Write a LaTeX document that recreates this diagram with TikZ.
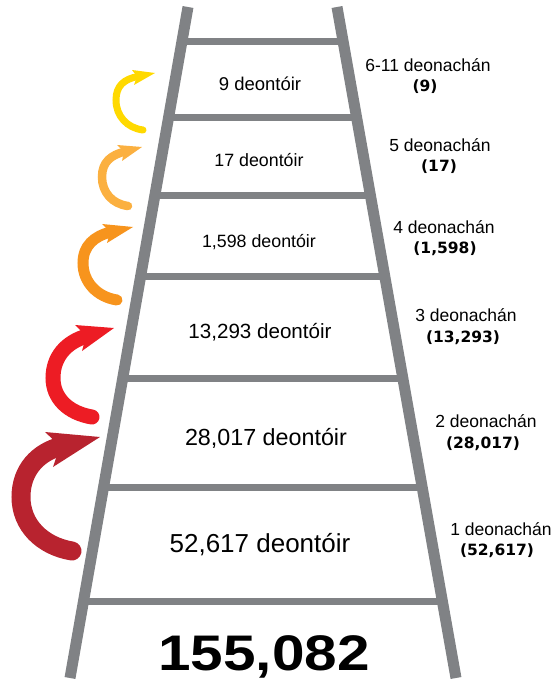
\documentclass[tikz,border=0pt]{standalone}
\usepackage{fontspec}
\setmainfont{Liberation Sans}
\newfontfamily\boldlab{DejaVu Sans}
\newfontfamily\totfont[FakeStretch=1.17]{Liberation Sans}
\usetikzlibrary{calc}
\definecolor{ladder}{HTML}{808285}
\definecolor{cyel}{HTML}{FFD900}
\definecolor{clor}{HTML}{FBB040}
\definecolor{cor}{HTML}{F7941D}
\definecolor{cred}{HTML}{ED1C24}
\definecolor{cdred}{HTML}{B8232F}
\tikzset{
  rail/.style={draw=ladder,line width=11pt},
  rung/.style={draw=ladder,line width=7pt},
  inner/.style={inner sep=0pt,anchor=center},
  lab/.style={inner sep=0pt,anchor=center,font=\fontsize{17.5}{20}\selectfont},
  num/.style={inner sep=0pt,anchor=center,font=\boldlab\bfseries\fontsize{15.5}{18}\selectfont},
  shaft/.style={line width=#1,line cap=round}
}
\begin{document}
\begin{tikzpicture}[x=1pt,y=-1pt]
\useasboundingbox (0,0) rectangle (555,684);
\coordinate (lt) at (188,7);
\coordinate (lb) at (70,678);
\coordinate (rt) at (337,7);
\coordinate (rb) at (456,678);
\foreach \y in {42,118,196,277,379,487,601}{
  \pgfmathsetmacro\t{(\y-7)/671}
  \draw[rung] ($(lt)!\t!(lb)$) -- ($(rt)!\t!(rb)$);
}
\draw[rail] (lt) -- (lb);
\draw[rail] (rt) -- (rb);
% step texts
\node[inner,font=\fontsize{18.5}{20}\selectfont] (s6) at (260,84) {9 deontóir};
\node[inner,font=\fontsize{17.8}{20}\selectfont] (s5) at (259,160) {17 deontóir};
\node[inner,font=\fontsize{17.8}{20}\selectfont] (s4) at (259,242) {1,598 deontóir};
\node[inner,font=\fontsize{20.6}{22}\selectfont] (s3) at (260,332) {13,293 deontóir};
\node[inner,font=\fontsize{23.3}{25}\selectfont] (s2) at (266,438) {28,017 deontóir};
\node[inner,font=\fontsize{26}{28}\selectfont] (s1) at (260,545) {52,617 deontóir};
\node[inner,font=\totfont\bfseries\fontsize{50}{52}\selectfont] (tot) at (264,657) {155,082};
% right labels
\node[lab] (r6) at (428,65) {6-11 deonachán};
\node[num] (n6) at (425,87) {(9)};
\node[lab] (r5) at (440,145) {5 deonachán};
\node[num] (n5) at (439,167) {(17)};
\node[lab] (r4) at (444,227) {4 deonachán};
\node[num] (n4) at (445,249) {(1,598)};
\node[lab] (r3) at (466,315) {3 deonachán};
\node[num] (n3) at (463,338) {(13,293)};
\node[lab] (r2) at (486,421) {2 deonachán};
\node[num] (n2) at (483,444) {(28,017)};
\node[lab] (r1) at (501,529) {1 deonachán};
\node[num] (n1) at (497,551) {(52,617)};
% arrows
\draw[cdred,shaft=19pt] (72,551) .. controls (42,546) and (21,525) .. (21,497) .. controls (21,470) and (38,452) .. (62,446);
\fill[cdred] (100,437) -- (45,432) -- (60,446) -- (53,467) -- cycle;
\draw[cred,shaft=15pt] (92,417) .. controls (68,413) and (53,398) .. (53,378) .. controls (53,357) and (66,342) .. (87,336);
\fill[cred] (114,328) -- (75,325) -- (86,336) -- (82,351) -- cycle;
\draw[cor,shaft=11pt] (117,300) .. controls (97,297) and (83,282) .. (83,263) .. controls (83,246) and (94,236) .. (111,232);
\fill[cor] (133,227) -- (102,224) -- (110,232) -- (107,243) -- cycle;
\draw[clor,shaft=8.5pt] (128,206) .. controls (112,204) and (102,192) .. (102,177) .. controls (102,162) and (111,155) .. (125,151.5);
\fill[clor] (142,147) -- (117,145) -- (124,151.5) -- (122,161) -- cycle;
\draw[cyel,shaft=7pt] (143,130) .. controls (127,128) and (116,116) .. (116,100) .. controls (116,86) and (124,79) .. (138,76.5);
\fill[cyel] (155,73) -- (132,70) -- (137,76.5) -- (134,85) -- cycle;
\end{tikzpicture}
\end{document}
